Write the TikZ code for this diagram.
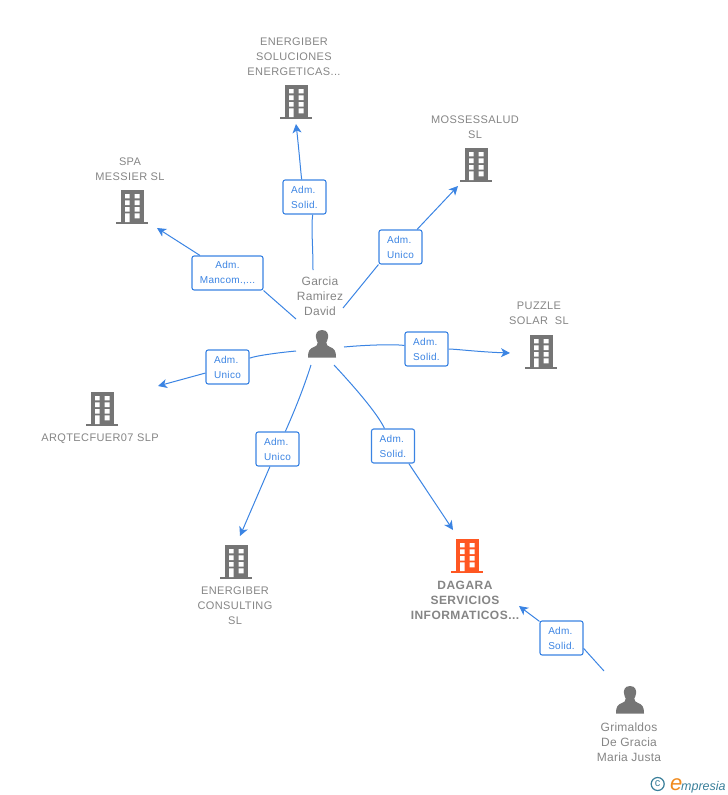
\documentclass[tikz,border=0pt]{standalone}
\usepackage{fontspec}
\setmainfont{Liberation Sans}
\usetikzlibrary{backgrounds,arrows.meta}
\definecolor{linkblue}{HTML}{3B84E3}
\definecolor{icongray}{HTML}{757575}
\definecolor{textgray}{HTML}{858585}
\definecolor{accent}{HTML}{FF5722}
\definecolor{logoblue}{HTML}{3A7F9A}
\definecolor{logoorange}{HTML}{F08A1D}
\newcommand{\bldg}[4]{%
  \node[iconbox] (#1) at (#2,#3) {};
  \begin{scope}[shift={(#2,#3)}]
    \fill[#4] (-11,-17) rectangle (11.5,15);
    \fill[#4] (-16,15) rectangle (16,17);
    \fill[white] (-7,-13) rectangle (-2.4,-8.7) (2.7,-13) rectangle (7.6,-8.7)
      (-7,-6.7) rectangle (-2.4,-2) (2.7,-6.7) rectangle (7.6,-2)
      (-7,0) rectangle (-2.4,4.7) (2.7,0) rectangle (7.6,4.7)
      (-7,6.3) rectangle (-2.4,15) (2.7,6.3) rectangle (7.6,11.3);
  \end{scope}}
\newcommand{\prsn}[3]{%
  \node[iconbox] (#1) at (#2,#3) {};
  \begin{scope}[shift={(#2,#3)}]
    \fill[icongray] (0,-14) .. controls (-5.5,-14) and (-6.5,-9.5) .. (-6,-6.5)
      .. controls (-5.7,-4) and (-4.8,-2.5) .. (-4.3,-1.5)
      .. controls (-4.3,1) and (-5.5,2) .. (-8,3)
      .. controls (-12,4.5) and (-14,6) .. (-14,13.5) -- (14,13.5)
      .. controls (14,6) and (12,4.5) .. (8,3)
      .. controls (5.5,2) and (4.3,1) .. (4.3,-1.5)
      .. controls (4.8,-2.5) and (5.7,-4) .. (6,-6.5)
      .. controls (6.5,-9.5) and (5.5,-14) .. (0,-14) -- cycle;
  \end{scope}}
\tikzset{
  x=1pt,y=-1pt,
  iconbox/.style={minimum width=32pt,minimum height=34pt,inner sep=0pt,outer sep=0pt},
  name label/.style={text=textgray,align=center,inner sep=0pt,font=\fontsize{11}{15}\selectfont\addfontfeature{LetterSpace=3.5}},
  person label/.style={name label,font=\fontsize{12}{15}\selectfont\addfontfeature{LetterSpace=2}},
  focus label/.style={name label,font=\fontsize{12}{15}\selectfont\bfseries\addfontfeature{LetterSpace=4}},
  role/.style={draw=linkblue,line width=1.1pt,rounded corners=2.2pt,fill=white,text=linkblue,
    align=left,inner sep=0pt,minimum height=34pt,minimum width=43pt,font=\fontsize{10}{15}\selectfont\addfontfeature{LetterSpace=3}},
  wide role/.style={role,minimum width=71pt,align=center},
  link/.style={draw=linkblue,line width=1pt},
  arrowed/.style={link,-{Stealth[length=9pt,width=9pt,inset=2.5pt]}},
}
\begin{document}
\begin{tikzpicture}
\useasboundingbox (0,0) rectangle (728,795);
\bldg{energiber}{296}{102}{icongray}
\bldg{mossessalud}{476}{165}{icongray}
\bldg{spa}{132}{207}{icongray}
\bldg{puzzle}{541}{352}{icongray}
\bldg{arqtec}{102}{409}{icongray}
\bldg{consulting}{236}{562}{icongray}
\bldg{dagara}{467}{556}{accent}
\prsn{garcia}{322}{344}
\prsn{grimaldos}{630}{700}
\node[name label] (tenergiber) at (294,56.5) {ENERGIBER\\SOLUCIONES\\ENERGETICAS...};
\node[name label] (tmoss) at (475,127) {MOSSESSALUD\\SL};
\node[name label] (tspa) at (130,169) {SPA\\MESSIER SL};
\node[name label] (tpuzzle) at (539,313) {PUZZLE\\SOLAR\ \ SL};
\node[name label] (tarq) at (100,439) {ARQTECFUER07 SLP};
\node[name label] (tcons) at (235,606) {ENERGIBER\\CONSULTING\\SL};
\node[focus label] (tdag) at (465,600) {DAGARA\\SERVICIOS\\INFORMATICOS...};
\node[person label] (tgarcia) at (320,296) {Garcia\\Ramirez\\David};
\node[person label] (tgrim) at (629,742) {Grimaldos\\De Gracia\\Maria Justa};
\node[role] (r1) at (304.5,197) {Adm.\\Solid.};
\node[role] (r2) at (400.5,247) {Adm.\\Unico};
\node[wide role] (r3) at (227.5,273) {Adm.\\Mancom.,...};
\node[role] (r4) at (426.5,349) {Adm.\\Solid.};
\node[role] (r5) at (227.5,367) {Adm.\\Unico};
\node[role] (r6) at (277.5,449) {Adm.\\Unico};
\node[role] (r7) at (393,446) {Adm.\\Solid.};
\node[role] (r8) at (561.5,638) {Adm.\\Solid.};
\coordinate (s1) at (313,270); \coordinate (e1) at (296,124);
\coordinate (s2) at (343,308); \coordinate (e2) at (458,186);
\coordinate (s3) at (296,319); \coordinate (e3) at (157,228);
\coordinate (s4) at (344,347); \coordinate (e4) at (510,353);
\coordinate (s5) at (296,351); \coordinate (e5) at (158,386);
\coordinate (s6) at (311,365); \coordinate (e6) at (240,536);
\coordinate (s7) at (334,365); \coordinate (e7) at (453,530);
\coordinate (s8) at (604,671); \coordinate (e8) at (519,606);
\begin{pgfonlayer}{background}
\draw[link] (s1) .. controls (313,245) and (311,228) .. (r1.-65);
\draw[arrowed] (r1) .. controls (301,175) and (299,150) .. (e1);
\draw[link] (s2) -- (r2.south west);
\draw[arrowed] (r2) -- (e2);
\draw[link] (s3) -- (r3.south east);
\draw[arrowed] (r3) -- (e3);
\draw[link] (s4) .. controls (365,345) and (395,344) .. (r4);
\draw[arrowed] (r4) .. controls (455,349) and (480,352) .. (e4);
\draw[link] (s5) .. controls (275,353) and (255,356) .. (r5);
\draw[arrowed] (r5) -- (e5);
\draw[link] (s6) .. controls (303,390) and (294,412) .. (r6);
\draw[arrowed] (r6) -- (e6);
\draw[link] (s7) .. controls (360,393) and (378,415) .. (r7);
\draw[arrowed] (r7.-48) -- (e7);
\draw[link] (s8) -- (r8.-25);
\draw[arrowed] (r8) -- (e8);
\end{pgfonlayer}
\node[circle,draw=logoblue,line width=1.2pt,inner sep=0pt,minimum size=13pt,text=logoblue,font=\fontsize{11}{11}\selectfont] (copyr) at (657.7,784) {c};
\node[inner sep=0pt,anchor=base west,text=logoorange,font=\fontsize{22}{22}\itshape\selectfont] (loge) at (670,790) {e};
\node[inner sep=0pt,anchor=base west,text=logoblue,font=\fontsize{12.5}{12.5}\itshape\selectfont] (logt) at (681,790) {mpresia};
\end{tikzpicture}
\end{document}
